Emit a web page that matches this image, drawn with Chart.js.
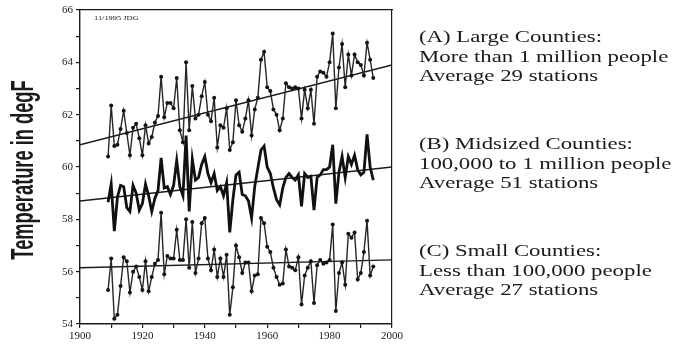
<!DOCTYPE html>
<html>
<head>
<meta charset="utf-8">
<script src="https://cdn.jsdelivr.net/npm/chart.js@4.4.1/dist/chart.umd.min.js"></script>
<style>
  html, body { margin: 0; padding: 0; background: #fff; }
</style>
</head>
<body>
<canvas id="chart" width="692" height="346"></canvas>
<script>
// years of record, 1909-1994
var years = [
  1909, 1910, 1911, 1912, 1913, 1914, 1915, 1916, 1917, 1918,
  1919, 1920, 1921, 1922, 1923, 1924, 1925, 1926, 1927, 1928,
  1929, 1930, 1931, 1932, 1933, 1934, 1935, 1936, 1937, 1938,
  1939, 1940, 1941, 1942, 1943, 1944, 1945, 1946, 1947, 1948,
  1949, 1950, 1951, 1952, 1953, 1954, 1955, 1956, 1957, 1958,
  1959, 1960, 1961, 1962, 1963, 1964, 1965, 1966, 1967, 1968,
  1969, 1970, 1971, 1972, 1973, 1974, 1975, 1976, 1977, 1978,
  1979, 1980, 1981, 1982, 1983, 1984, 1985, 1986, 1987, 1988,
  1989, 1990, 1991, 1992, 1993, 1994
];

// (A) large counties
var largeCounties = [
  60.4, 62.35, 60.8, 60.85, 61.45, 62.15, 61.3, 60.45, 61.5, 61.65,
  61.1, 60.45, 61.6, 60.9, 61.15, 61.7, 61.95, 63.45, 61.9, 62.45,
  62.45, 62.25, 63.4, 61.4, 60.95, 64.0, 61.4, 63.1, 61.85, 62.0,
  62.7, 63.25, 62.0, 61.75, 62.65, 60.75, 61.6, 61.5, 62.25, 60.65,
  60.95, 62.55, 61.6, 61.35, 61.85, 62.55, 61.2, 62.2, 62.65, 64.1,
  64.4, 63.05, 62.9, 62.2, 62.0, 61.4, 61.85, 63.2, 63.05, 63.0,
  63.05, 63.0, 61.85, 62.95, 62.25, 62.95, 61.65, 63.45, 63.65, 63.6,
  63.45, 64.0, 65.1, 62.25, 63.8, 64.7, 63.05, 64.3, 63.5, 64.3,
  64.0, 63.9, 63.5, 64.75, 64.1, 63.4
];

// (B) midsized counties
var midsizedCounties = [
  58.65, 59.35, 57.55, 58.85, 59.3, 59.25, 58.45, 58.3, 59.3, 59.0,
  58.35, 58.6, 59.35, 58.9, 58.3, 58.8, 59.1, 60.35, 59.2, 59.25,
  58.95, 59.3, 60.25, 59.25, 58.9, 61.2, 58.3, 60.3, 59.5, 59.6,
  60.1, 60.4, 59.75, 59.4, 59.75, 59.1, 59.25, 58.9, 59.4, 57.5,
  58.75, 59.7, 59.8, 58.95, 58.9, 58.7, 58.05, 59.25, 59.95, 60.65,
  60.8, 60.0, 59.75, 59.2, 58.75, 58.55, 59.2, 59.6, 59.75, 59.6,
  59.5, 59.7, 58.5, 59.75, 59.6, 59.65, 58.35, 59.6, 59.7, 59.9,
  59.9, 60.0, 60.85, 58.6, 59.8, 60.4, 59.6, 60.4, 60.1, 60.45,
  59.9, 59.7, 59.8, 61.25, 60.0, 59.5
];

// (C) small counties
var smallCounties = [
  55.3, 56.5, 54.2, 54.35, 55.45, 56.55, 56.4, 55.2, 56.0, 56.2,
  55.8, 55.3, 56.4, 55.25, 55.8, 56.3, 56.45, 58.25, 55.9, 56.6,
  56.5, 56.5, 57.6, 56.45, 56.45, 58.0, 56.15, 57.9, 55.95, 56.5,
  57.85, 58.05, 56.5, 56.05, 56.85, 55.8, 56.5, 55.8, 56.65, 54.35,
  55.4, 57.0, 56.55, 55.95, 56.35, 56.35, 55.25, 55.85, 55.9, 58.05,
  57.85, 56.95, 56.75, 56.15, 55.8, 55.5, 55.55, 56.85, 56.2, 56.15,
  56.05, 56.55, 54.75, 55.85, 56.15, 56.4, 54.8, 56.25, 56.45, 56.3,
  56.35, 56.45, 57.8, 54.5, 55.95, 56.35, 55.5, 57.45, 57.3, 57.5,
  55.7, 55.95, 56.75, 57.95, 55.85, 56.2
];

// fitted trend lines, end points at 1900 and 2000
var trendYears = [1900, 2000];
var trendLarge = [60.85, 63.9];
var trendMidsized = [58.7, 60.0];
var trendSmall = [56.15, 56.45];

var yTitle = "Temperature in degF";
var stamp = "11/1995 JDG";
var legendBlocks = [
  ["(A) Large Counties:", "More than 1 million people", "Average 29 stations"],
  ["(B) Midsized Counties:", "100,000 to 1 million people", "Average 51 stations"],
  ["(C) Small Counties:", "Less than 100,000 people", "Average 27 stations"]
];

function pts(xs, ys) {
  return ys.map(function (v, i) { return { x: xs[i], y: v }; });
}

var ink = "#1a1a1a";
var serif = '"Liberation Serif", "Times New Roman", serif';

var seriesStyle = {
  borderColor: "#262626",
  borderWidth: 1.4,
  pointRadius: 2,
  pointBackgroundColor: "#141414",
  pointBorderWidth: 0,
  tension: 0
};

function trend(ys) {
  return {
    data: pts(trendYears, ys),
    borderColor: ink,
    borderWidth: 1.4,
    pointRadius: 0,
    tension: 0
  };
}

// texts that sit outside the plot (stretched like the scanned original)
var notesPlugin = {
  id: "notes",
  afterDraw: function (chart) {
    var ctx = chart.ctx;
    var area = chart.chartArea;
    ctx.save();
    ctx.fillStyle = ink;

    ctx.save();
    ctx.translate(33, 170);
    ctx.rotate(-Math.PI / 2);
    ctx.scale(0.87, 1.5);
    ctx.font = 'bold 21px "Liberation Sans", Arial, sans-serif';
    ctx.textAlign = "center";
    ctx.textBaseline = "alphabetic";
    ctx.fillText(yTitle, 0, 0);
    ctx.restore();

    ctx.save();
    ctx.translate(area.left + 14, area.top + 8);
    ctx.scale(1.2, 1);
    ctx.font = "7px " + serif;
    ctx.textBaseline = "middle";
    ctx.fillText(stamp, 0, 0);
    ctx.restore();

    var tops = [38, 145, 252];
    legendBlocks.forEach(function (lines, b) {
      lines.forEach(function (txt, i) {
        ctx.save();
        ctx.translate(419, tops[b] + i * 19.5);
        ctx.scale(1.34, 1);
        ctx.font = "17px " + serif;
        ctx.textBaseline = "middle";
        ctx.fillText(txt, 0, 0);
        ctx.restore();
      });
    });
    ctx.restore();
  }
};

var tickFont = { family: serif, size: 11 };

new Chart(document.getElementById("chart"), {
  type: "line",
  data: {
    datasets: [
      Object.assign({ data: pts(years, largeCounties) }, seriesStyle),
      {
        data: pts(years, midsizedCounties),
        borderColor: "#111",
        borderWidth: 2.8,
        pointRadius: 0,
        tension: 0
      },
      Object.assign({ data: pts(years, smallCounties) }, seriesStyle),
      trend(trendLarge),
      trend(trendMidsized),
      trend(trendSmall)
    ]
  },
  options: {
    responsive: false,
    devicePixelRatio: 1,
    animation: false,
    layout: { padding: { left: 0, right: 300, top: 10, bottom: 0 } },
    plugins: { legend: { display: false }, tooltip: { enabled: false } },
    scales: {
      x: {
        type: "linear",
        position: "bottom",
        min: 1900,
        max: 2000,
        afterFit: function (s) { s.height = 22; },
        ticks: {
          stepSize: 10,
          autoSkip: false,
          maxRotation: 0,
          padding: 2,
          color: ink,
          font: tickFont,
          callback: function (v) { return v % 20 === 0 ? String(v) : ""; }
        },
        grid: { drawOnChartArea: false, tickLength: 4, color: ink, lineWidth: 1.2 },
        border: { color: ink, width: 1.4 }
      },
      xTop: {
        type: "linear",
        position: "top",
        min: 1900,
        max: 2000,
        afterFit: function (s) { s.height = 0; },
        ticks: { display: false },
        grid: { drawOnChartArea: false, drawTicks: false },
        border: { color: ink, width: 1.2 }
      },
      y: {
        min: 54,
        max: 66,
        afterFit: function (s) { s.width = 80; },
        ticks: {
          stepSize: 1,
          autoSkip: false,
          padding: 3,
          color: ink,
          font: tickFont,
          callback: function (v) { return v % 2 === 0 ? String(v) : ""; }
        },
        grid: { drawOnChartArea: false, tickLength: 4, color: ink, lineWidth: 1.2 },
        border: { color: ink, width: 1.4 }
      },
      yRight: {
        position: "right",
        min: 54,
        max: 66,
        afterFit: function (s) { s.width = 0; },
        ticks: { display: false },
        grid: { drawOnChartArea: false, drawTicks: false },
        border: { color: ink, width: 1.2 }
      }
    }
  },
  plugins: [notesPlugin]
});
</script>
</body>
</html>
